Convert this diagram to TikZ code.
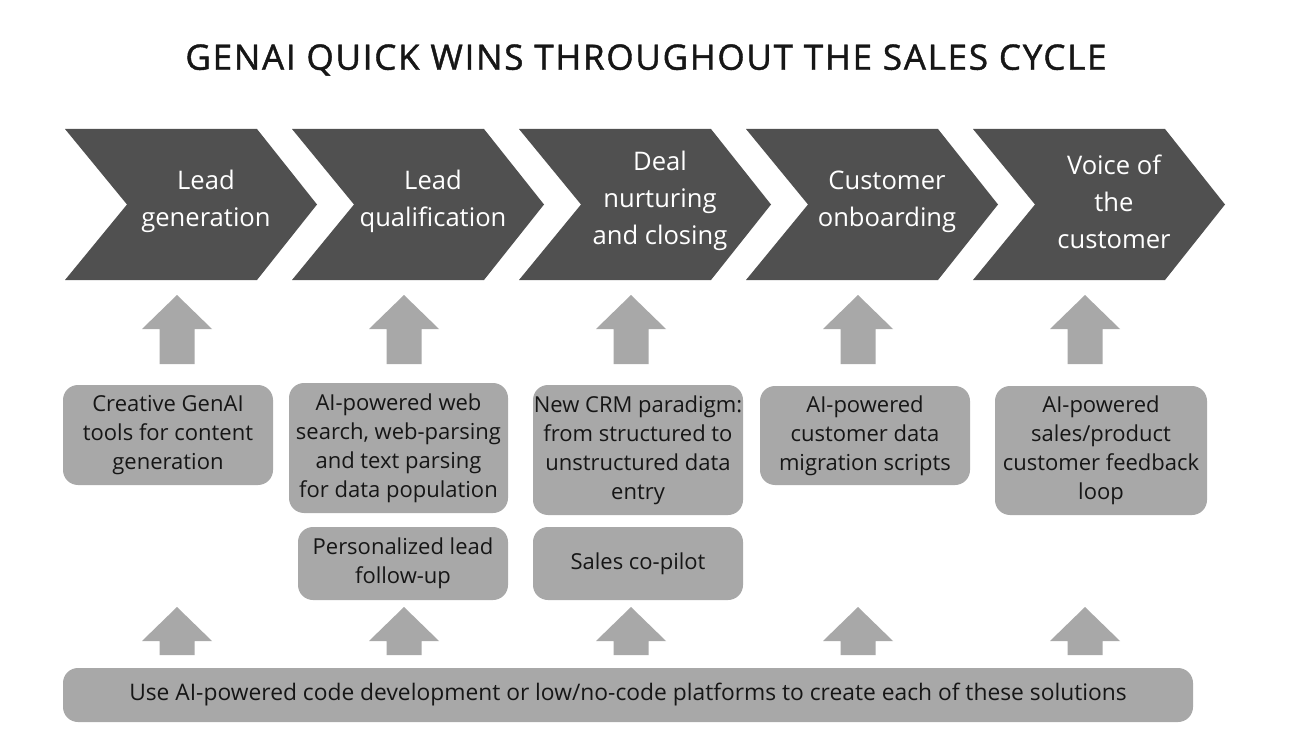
\documentclass[tikz,border=0pt]{standalone}
\usepackage{fontspec}
\setmainfont{Open Sans}
\newfontfamily\headfont[LetterSpace=5,FakeBold=1.2]{Open Sans}
\usepackage{xcolor}
\usepackage{tikz}
\usetikzlibrary{calc}
\definecolor{SCDark}{RGB}{80, 80, 80}
\definecolor{SCGray}{RGB}{168, 168, 168}
\definecolor{SCInk}{RGB}{22, 22, 22}

\tikzset{
  stage/.style={text=white, align=center, font=\fontsize{12.8}{18.5}\selectfont},
  tool/.style={fill=SCGray, rounded corners=7.5pt, align=center, inner sep=0pt,
    text=SCInk, font=\fontsize{11}{14.5}\selectfont},
}
% block arrow: x, tip y, tail y
\newcommand{\upblock}[3]{%
  \fill[SCGray] (#1-17.5,#3) -- (#1-17.5,#2+34) -- (#1-35,#2+34) -- (#1,#2)
    -- (#1+35,#2+34) -- (#1+17.5,#2+34) -- (#1+17.5,#3) -- cycle;}

\begin{document}
\begin{tikzpicture}[x=0.5pt,y=-0.5pt]
  \path[use as bounding box] (0,0) rectangle (1292,738);
  \fill[white] (0,0) rectangle (1292,738);

  \node[text=SCInk, font=\fontsize{17.5}{20}\headfont] (title) at (646,60)
    {GENAI QUICK WINS THROUGHOUT THE SALES CYCLE};

  % stages
  \foreach \l in {65,292,519,746,973}
    \fill[SCDark] (\l,129) -- (\l+192,129) -- (\l+252,204.5) -- (\l+192,280)
      -- (\l,280) -- (\l+62,204.5) -- cycle;

  \node[stage] (leadgen) at (206,201.5) {Lead\\generation};
  \node[stage] (leadqual) at (433,201.5) {Lead\\qualification};
  \node[stage] (dealclose) at (660,200.5) {Deal\\nurturing\\and closing};
  \node[stage] (onboard) at (887,201.5) {Customer\\onboarding};
  \node[stage] (voice) at (1114,201.5) {Voice of\\the\\customer};

  \foreach \x in {177,404,631,858,1085} {
    \upblock{\x}{295}{364}
    \upblock{\x}{607}{655}
  }

  % quick wins
  \node[tool, minimum width=105pt, minimum height=50pt] (genai) at (168,435)
    {Creative GenAI\\tools for content\\generation};
  \node[tool, minimum width=109.5pt, minimum height=65pt] (websearch) at (398.5,448)
    {AI-powered web\\search, web-parsing\\and text parsing\\for data population};
  \node[tool, minimum width=105pt, minimum height=36.5pt] (followup) at (403,563.5)
    {Personalized lead\\follow-up};
  \node[tool, minimum width=105pt, minimum height=65pt] (crm) at (638,450)
    {New CRM paradigm:\\from structured to\\unstructured data\\entry};
  \node[tool, minimum width=105pt, minimum height=36.5pt] (copilot) at (638,563.5)
    {Sales co-pilot};
  \node[tool, minimum width=105pt, minimum height=49.5pt] (migration) at (865,435.5)
    {AI-powered\\customer data\\migration scripts};
  \node[tool, minimum width=106pt, minimum height=64.5pt] (feedback) at (1101,450.5)
    {AI-powered\\sales/product\\customer feedback\\loop};

  \node[tool, minimum width=565pt, minimum height=27pt, font=\fontsize{11.4}{13}\selectfont] (lowcode) at (628,695)
    {Use AI-powered code development or low/no-code platforms to create each of these solutions};
\end{tikzpicture}
\end{document}
